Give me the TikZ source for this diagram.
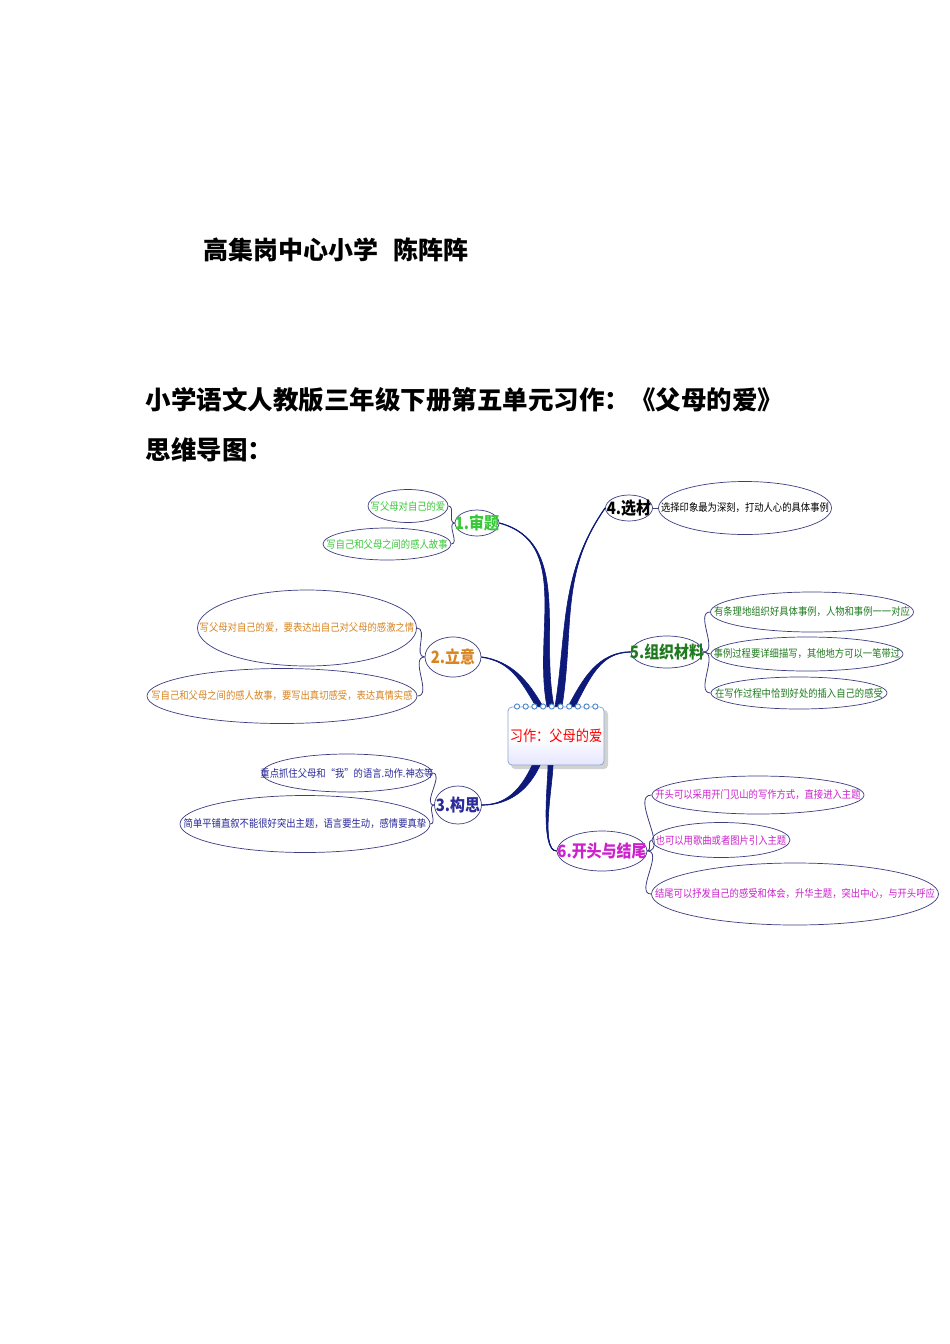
\documentclass[tikz,border=0pt]{standalone}
\usepackage{fontspec}
\setmainfont{Noto Sans CJK SC}
\usetikzlibrary{shapes.geometric}
\definecolor{navy}{HTML}{0D1A7A}
\definecolor{ellc}{HTML}{3C3C82}
\definecolor{gA}{HTML}{38C838}
\definecolor{orB}{HTML}{D98420}
\definecolor{nvC}{HTML}{2A2A9A}
\definecolor{gE}{HTML}{1F7A1F}
\definecolor{mgF}{HTML}{CC22CC}
\definecolor{ringc}{HTML}{4F86C6}
\definecolor{boxc}{HTML}{8AA8D0}
\tikzset{
  leaf/.style={ellipse, draw=ellc, line width=0.7pt, inner sep=0pt, font=\fontsize{10.6}{11}\selectfont},
  topic/.style={ellipse, draw=ellc, line width=0.7pt, fill=white, inner sep=0pt, font=\bfseries\fontsize{17}{18}\selectfont},
  twig/.style={draw=ellc, line width=0.8pt},
  branch/.style={fill=navy, draw=navy, line width=0.6pt},
  spine/.style={draw=navy, line width=1.2pt},
  headline/.style={anchor=west, font=\bfseries\fontsize{25.5}{27}\selectfont}
}
\newcommand{\zw}[1]{\makebox[0pt]{\scalebox{0.88}[1]{#1}}}
\begin{document}
\begin{tikzpicture}[x=1pt,y=1pt]
\useasboundingbox (0,0) rectangle (950,-1344);
\fill[white] (0,0) rectangle (950,-1344);

% headings
\node[headline, font=\bfseries\fontsize{25}{27}\selectfont] (h1) at (200,-250) {高集岗中心小学\hspace{15pt}陈阵阵};
\node[headline] (h2) at (142,-400) {小学语文人教版三年级下册第五单元习作：《父母的爱》};
\node[headline] (h3) at (142,-450) {思维导图：};

% central box
\fill[gray!35, rounded corners=4] (511,-710) rectangle (608,-769);
\node[draw=boxc, line width=0.8pt, rounded corners=4, top color=white, bottom color=blue!10, middle color=white,
      minimum width=96, minimum height=58, inner sep=0pt, text=red, font=\fontsize{15}{16}\selectfont] (c) at (556,-736) {\zw{习作：父母的爱}};

% topic nodes
\node[topic, minimum width=44, minimum height=26, text=gA] (t1) at (477,-523) {\zw{1.审题}};
\node[topic, minimum width=47, minimum height=26, text=black] (t4) at (629,-508) {\zw{4.选材}};
\node[topic, minimum width=56, minimum height=40, text=orB] (t2) at (453,-657) {\zw{2.立意}};
\node[topic, minimum width=72, minimum height=32, text=gE] (t5) at (667,-652) {\zw{5.组织材料}};
\node[topic, minimum width=47, minimum height=38, text=nvC] (t3) at (458,-805) {\zw{3.构思}};
\node[topic, minimum width=90, minimum height=40, text=mgF] (t6) at (602,-851) {\zw{6.开头与结尾}};

% leaves
\node[leaf, minimum width=80, minimum height=33, text=gA] (l1a) at (408,-506) {\zw{写父母对自己的爱}};
\node[leaf, minimum width=128, minimum height=32, text=gA] (l1b) at (387,-544) {\zw{写自己和父母之间的感人故事}};
\node[leaf, minimum width=173, minimum height=53, text=black] (l4a) at (745,-508) {\zw{选择印象最为深刻，打动人心的具体事例}};
\node[leaf, minimum width=219, minimum height=76, text=orB] (l2a) at (307,-628) {\zw{写父母对自己的爱，要表达出自己对父母的感激之情}};
\node[leaf, minimum width=270, minimum height=55, text=orB] (l2b) at (282,-696) {\zw{写自己和父母之间的感人故事，要写出真切感受，表达真情实感}};
\node[leaf, minimum width=203, minimum height=40, text=gE] (l5a) at (812,-612) {\zw{有条理地组织好具体事例，人物和事例一一对应}};
\node[leaf, minimum width=192, minimum height=34, text=gE] (l5b) at (807,-654) {\zw{事例过程要详细描写，其他地方可以一笔带过}};
\node[leaf, minimum width=176, minimum height=32, text=gE] (l5c) at (799,-693) {\zw{在写作过程中恰到好处的插入自己的感受}};
\node[leaf, minimum width=170, minimum height=38, text=nvC] (l3a) at (347,-773) {\zw{重点抓住父母和“我”的语言.动作.神态等}};
\node[leaf, minimum width=250, minimum height=57, text=nvC] (l3b) at (305,-824) {\zw{简单平铺直叙不能很好突出主题，语言要生动，感情要真挚}};
\node[leaf, minimum width=212, minimum height=38, text=mgF] (l6a) at (758,-795) {\zw{开头可以采用开门见山的写作方式，直接进入主题}};
\node[leaf, minimum width=138, minimum height=35, text=mgF] (l6b) at (721,-840) {\zw{也可以用歌曲或者图片引入主题}};
\node[leaf, minimum width=287, minimum height=62, text=mgF] (l6c) at (795,-894) {\zw{结尾可以抒发自己的感受和体会，升华主题，突出中心，与开头呼应}};

% main branches (tapered)
\fill[branch] ([xshift=-9]c.north) to[out=101,in=-15] (t1.east) to[out=-15,in=101] ([xshift=-2]c.north) -- cycle;
\draw[spine] ([xshift=-5.5]c.north) to[out=101,in=-15] (t1.east);
\fill[branch] ([xshift=-1]c.north) to[out=81,in=235] (t4.west) to[out=235,in=81] ([xshift=6]c.north) -- cycle;
\draw[spine] ([xshift=2.5]c.north) to[out=81,in=235] (t4.west);
\fill[branch] ([xshift=-20]c.north) to[out=120,in=-8] (t2.east) to[out=-8,in=120] ([xshift=-13]c.north) -- cycle;
\draw[spine] ([xshift=-16.5]c.north) to[out=120,in=-8] (t2.east);
\fill[branch] ([xshift=12]c.north) to[out=62,in=180] (t5.west) to[out=180,in=62] ([xshift=19]c.north) -- cycle;
\draw[spine] ([xshift=15.5]c.north) to[out=62,in=180] (t5.west);
\fill[branch] ([xshift=-24]c.south) to[out=-115,in=0] (t3.east) to[out=0,in=-115] ([xshift=-16]c.south) -- cycle;
\draw[spine] ([xshift=-20]c.south) to[out=-115,in=0] (t3.east);
\fill[branch] ([xshift=-8]c.south) to[out=-90,in=180,looseness=0.5] (t6.west) to[out=180,in=-90,looseness=0.5] ([xshift=-3]c.south) -- cycle;
\draw[spine] ([xshift=-5.5]c.south) to[out=-90,in=180,looseness=0.5] (t6.west);

% rings on the box
\foreach \i in {0,...,9} {
  \draw[ringc, line width=0.9pt, fill=white] (517+\i*8.7,-706.5) circle (2.6);
}

% twigs to leaves
\draw[twig] (t1.west) to[out=180,in=0] (l1a.east);
\draw[twig] (t1.west) to[out=180,in=0] (l1b.east);
\draw[twig] (t4.east) -- (l4a.west);
\draw[twig] (t2.west) to[out=180,in=0] (l2a.east);
\draw[twig] (t2.west) to[out=180,in=0] (l2b.east);
\draw[twig] (t5.east) to[out=0,in=180] (l5a.west);
\draw[twig] (t5.east) to[out=0,in=180] (l5b.west);
\draw[twig] (t5.east) to[out=0,in=180] (l5c.west);
\draw[twig] (t3.west) to[out=180,in=0] (l3a.east);
\draw[twig] (t3.west) to[out=180,in=0] (l3b.east);
\draw[twig] (t6.east) to[out=0,in=180] (l6a.west);
\draw[twig] (t6.east) to[out=0,in=180] (l6b.west);
\draw[twig] (t6.east) to[out=0,in=180] (l6c.west);
\end{tikzpicture}
\end{document}
